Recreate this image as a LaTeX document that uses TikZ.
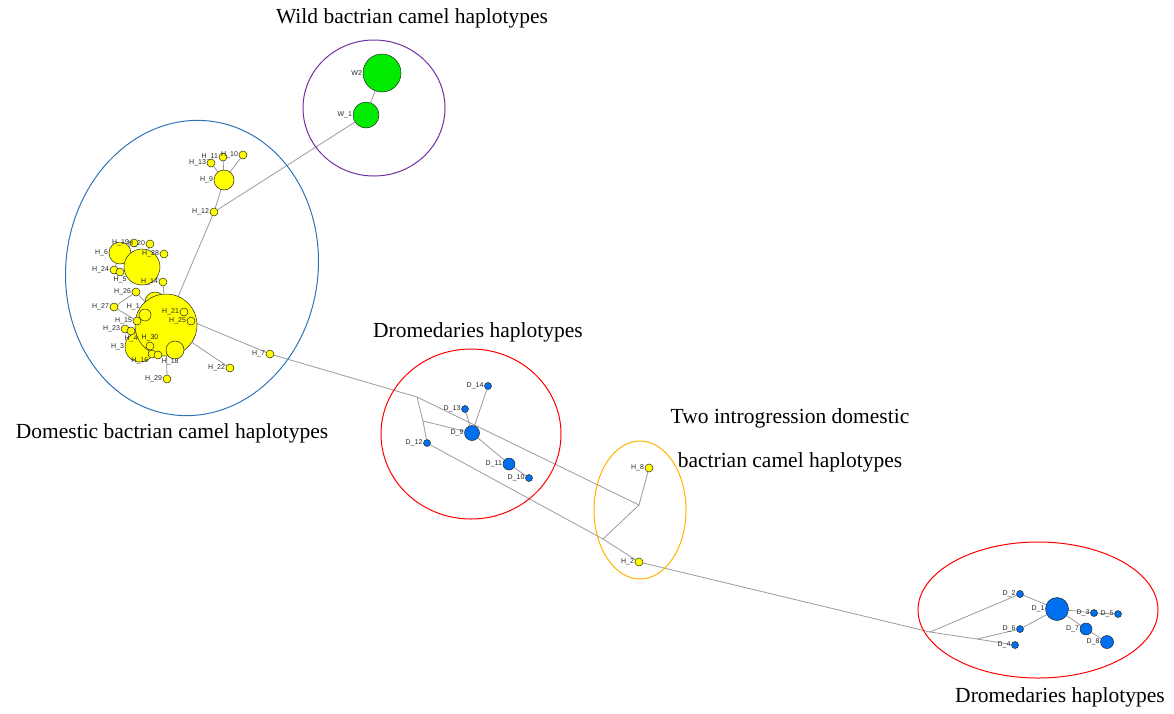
\documentclass[tikz,border=0pt]{standalone}
\usepackage{fontspec}
\setmainfont{Liberation Serif}
\newfontfamily\lblfont{Liberation Sans}
\usepackage{xcolor}
\usetikzlibrary{positioning}
\pgfdeclarelayer{background}
\pgfsetlayers{background,main}

\definecolor{hapyellow}{RGB}{255,255,0}
\definecolor{hapgreen}{RGB}{0,235,0}
\definecolor{hapblue}{RGB}{0,112,240}
\definecolor{ringpurple}{RGB}{112,48,160}
\definecolor{ringblue}{RGB}{46,117,182}
\definecolor{ringred}{RGB}{255,0,0}
\definecolor{ringorange}{RGB}{255,180,0}
\definecolor{linkgray}{RGB}{155,155,155}

\begin{document}
\begin{tikzpicture}[x=1pt,y=-1pt]
    \tikzset{
      hap/.style={circle,draw=black!85,line width=0.5pt,inner sep=0pt,minimum size=#1},
      hapY/.style={hap=#1,fill=hapyellow},
      hapG/.style={hap=#1,fill=hapgreen},
      hapB/.style={hap=#1,fill=hapblue},
      lbl/.style={font=\lblfont\fontsize{7}{7.5}\selectfont,text=black!85,inner sep=0.6pt},
      link/.style={draw=linkgray,line width=0.8pt},
      ring/.style={line width=1pt},
      caption/.style={font=\fontsize{21.5}{26}\selectfont,inner sep=0pt}
    }
    \useasboundingbox (0,0) rectangle (1174,713);

    % wild bactrian
    \node[hapG=38] (W2) at (382,73) [label={[lbl]left:W2}] {};
    \node[hapG=26] (W1) at (366,115) [label={[lbl]left:W\_1}] {};

    % domestic bactrian
    \node[hapY=8]  (H13) at (211,163) [label={[lbl]left:H\_13}] {};
    \node[hapY=8]  (H11) at (223,157) [label={[lbl]left:H\_11}] {};
    \node[hapY=8]  (H10) at (243,155) [label={[lbl]left:H\_10}] {};
    \node[hapY=20] (H9)  at (224,180) [label={[lbl]left:H\_9}] {};
    \node[hapY=8]  (H12) at (214,212) [label={[lbl]left:H\_12}] {};
    \node[hapY=22] (H6)  at (120,253) [label={[lbl]left:H\_6}] {};
    \node[hapY=36] (H28b) at (142,267) {};
    \node[hapY=8]  (H19) at (134,243) [label={[lbl]left:H\_19}] {};
    \node[hapY=8]  (H20) at (150,244) [label={[lbl]left:H\_20}] {};
    \node[hapY=8]  (H28) at (164,254) [label={[lbl]left:H\_28}] {};
    \node[hapY=8]  (H24) at (114,270) [label={[lbl]left:H\_24}] {};
    \node[hapY=8]  (H5)  at (120,272) [label={[lbl]below:H\_5}] {};
    \node[hapY=8]  (H14) at (163,282) [label={[lbl]left:H\_14}] {};
    \node[hapY=8]  (H26) at (136,292) [label={[lbl]left:H\_26}] {};
    \node[hapY=8]  (H27) at (114,307) [label={[lbl]left:H\_27}] {};
    \node[hapY=20] (H2b) at (155,302) {};
    \node[hapY=30] (H3)  at (140,347) [label={[lbl]left:H\_3}] {};
    \node[hapY=62] (H1)  at (166,325) {};
    \node[hapY=12] (Ha)  at (145,315) [label={[lbl]above left:H\_1}] {};
    \node[hapY=8]  (H15) at (137,321) [label={[lbl]left:H\_15}] {};
    \node[hapY=8]  (H23) at (125,329) [label={[lbl]left:H\_23}] {};
    \node[hapY=8]  (H4)  at (131,331) [label={[lbl]below:H\_4}] {};
    \node[hapY=8]  (H30) at (150,346) [label={[lbl]above:H\_30}] {};
    \node[hapY=18] (H13b) at (175,350) {};
    \node[hapY=8]  (H16) at (152,354) [label={[lbl]below left:H\_16}] {};
    \node[hapY=8]  (H18) at (158,355) [label={[lbl]below right:H\_18}] {};
    \node[hapY=8]  (H21) at (184,312) [label={[lbl]left:H\_21}] {};
    \node[hapY=8]  (H25) at (191,321) [label={[lbl]left:H\_25}] {};
    \node[hapY=8]  (H29) at (167,379) [label={[lbl]left:H\_29}] {};
    \node[hapY=8]  (H22) at (230,368) [label={[lbl]left:H\_22}] {};
    \node[hapY=8]  (H7)  at (270,354) [label={[lbl]left:H\_7}] {};

    % dromedaries, first group
    \node[hapB=7]  (D14) at (488,386) [label={[lbl]left:D\_14}] {};
    \node[hapB=7]  (D13) at (465,409) [label={[lbl]left:D\_13}] {};
    \node[hapB=15] (D9)  at (472,433) [label={[lbl]left:D\_9}] {};
    \node[hapB=7]  (D12) at (427,443) [label={[lbl]left:D\_12}] {};
    \node[hapB=12] (D11) at (509,464) [label={[lbl]left:D\_11}] {};
    \node[hapB=7]  (D10) at (529,478) [label={[lbl]left:D\_10}] {};

    % introgression
    \node[hapY=8]  (H8) at (649,468) [label={[lbl]left:H\_8}] {};
    \node[hapY=8]  (H2) at (639,562) [label={[lbl]left:H\_2}] {};

    % dromedaries, second group
    \node[hapB=7]  (D2) at (1020,594) [label={[lbl]left:D\_2}] {};
    \node[hapB=23] (D1) at (1057,609) [label={[lbl]left:D\_1}] {};
    \node[hapB=7]  (D3) at (1094,613) [label={[lbl]left:D\_3}] {};
    \node[hapB=7]  (D5) at (1118,614) [label={[lbl]left:D\_5}] {};
    \node[hapB=7]  (D6) at (1020,629) [label={[lbl]left:D\_6}] {};
    \node[hapB=7]  (D4) at (1015,645) [label={[lbl]left:D\_4}] {};
    \node[hapB=12] (D7) at (1086,629) [label={[lbl]left:D\_7}] {};
    \node[hapB=13] (D8) at (1107,642) [label={[lbl]left:D\_8}] {};

    \coordinate (j1) at (417,397);
    \coordinate (j2) at (423,421);
    \coordinate (j3) at (639,505);
    \coordinate (j4) at (603,539);
    \coordinate (j5) at (930,632);
    \coordinate (j6) at (977,639);

    \begin{pgfonlayer}{background}
      \draw[link] (W2) -- (W1) -- (H12) -- (H9);
      \draw[link] (H9) -- (H13) (H9) -- (H11) (H9) -- (H10);
      \draw[link] (H12) -- (H1) (H14) -- (H1) (H14) -- (H28b);
      \draw[link] (H26) -- (H1) (H26) -- (H27) (H27) -- (H15);
      \draw[link] (H6) -- (H28b) (H19) -- (H6) (H20) -- (H28b) (H24) -- (H6);
      \draw[link] (H22) -- (H1) (H29) -- (H1) (H25) -- (H7);
      \draw[link] (H7) -- (j1) -- (j2) -- (D9);
      \draw[link] (j2) -- (D12) -- (j4);
      \draw[link] (j1) -- (j3) -- (H8);
      \draw[link] (j3) -- (j4) -- (H2) -- (j5);
      \draw[link] (D9) -- (D13) (D9) -- (D14) (D9) -- (D11) -- (D10);
      \draw[link] (j5) -- (D2) -- (D1);
      \draw[link] (j5) -- (j6) -- (D6) -- (D1);
      \draw[link] (j6) -- (D4);
      \draw[link] (D1) -- (D3) -- (D5) (D1) -- (D7) -- (D8);
    \end{pgfonlayer}

    % group outlines
    \draw[ring,ringpurple] (374,108) ellipse [x radius=71pt,y radius=68pt];
    \draw[ring,ringblue,rotate around={-8:(192,268)}] (192,268) ellipse [x radius=126pt,y radius=148pt];
    \draw[ring,ringred] (471,434) ellipse [x radius=90pt,y radius=85pt];
    \draw[ring,ringorange] (640,510) ellipse [x radius=46pt,y radius=69pt];
    \draw[ring,ringred] (1038,610) ellipse [x radius=120pt,y radius=68pt];

    \node[caption] (capW)  at (412,18)  {Wild bactrian camel haplotypes};
    \node[caption] (capH)  at (172,433) {Domestic bactrian camel haplotypes};
    \node[caption] (capD1) at (478,332) {Dromedaries haplotypes};
    \node[caption] (capI1) at (790,418) {Two introgression domestic};
    \node[caption] (capI2) at (790,462) {bactrian camel haplotypes};
    \node[caption] (capD2) at (1060,697) {Dromedaries haplotypes};
\end{tikzpicture}
\end{document}
